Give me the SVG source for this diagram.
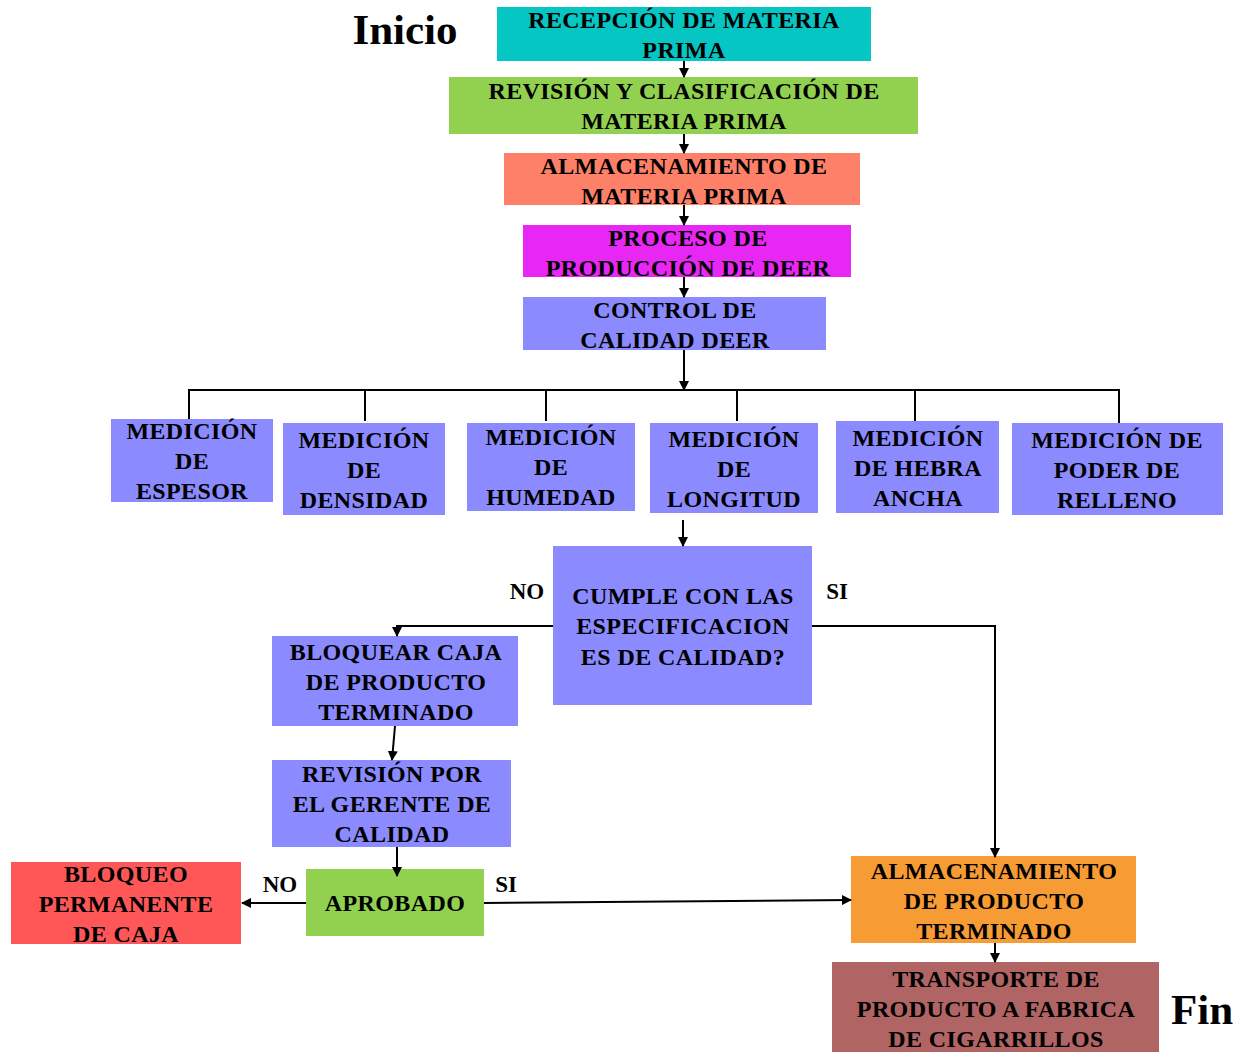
<svg xmlns="http://www.w3.org/2000/svg" width="1240" height="1053" viewBox="0 0 1240 1053">
<style>
text{font-family:"Liberation Serif","Times New Roman",serif;font-weight:bold;fill:#000;text-anchor:middle}
.t{font-size:24px;letter-spacing:0.4px}
.big{font-size:43px}
.lbl{font-size:23px}
.c{stroke:#000;stroke-width:2;fill:none}
</style>
<defs>
<marker id="ah" viewBox="0 0 10 10" refX="9" refY="5" markerWidth="5" markerHeight="5" orient="auto" markerUnits="strokeWidth">
<path d="M0,0 L10,5 L0,10 z" fill="#000"/>
</marker>
</defs>
<rect width="1240" height="1053" fill="#fff"/>
<text class="big" x="405" y="44">Inicio</text>
<text class="big" x="1202" y="1024">Fin</text>

<g id="n1"><rect x="497" y="7" width="374" height="54" fill="#05C6C3"/>
<text class="t" x="684" y="28">RECEPCIÓN  DE MATERIA</text><text class="t" x="684" y="58">PRIMA</text></g>
<g id="n2"><rect x="449" y="77" width="469" height="57" fill="#92D050"/>
<text class="t" x="684" y="99">REVISIÓN  Y CLASIFICACIÓN  DE</text><text class="t" x="684" y="129">MATERIA  PRIMA</text></g>
<g id="n3"><rect x="504" y="153" width="356" height="52" fill="#FF8068"/>
<text class="t" x="684" y="174">ALMACENAMIENTO  DE</text><text class="t" x="684" y="204">MATERIA  PRIMA</text></g>
<g id="n4"><rect x="523" y="225" width="328" height="52" fill="#E927F5"/>
<text class="t" x="688" y="246">PROCESO DE</text><text class="t" x="688" y="276">PRODUCCIÓN DE DEER</text></g>
<g id="n5"><rect x="523" y="297" width="303" height="53" fill="#8B8BFF"/>
<text class="t" x="675" y="318">CONTROL DE</text><text class="t" x="675" y="348">CALIDAD  DEER</text></g>

<g id="m1"><rect x="111" y="419" width="162" height="83" fill="#8B8BFF"/>
<text class="t" x="192" y="439">MEDICIÓN</text><text class="t" x="192" y="469">DE</text><text class="t" x="192" y="499">ESPESOR</text></g>
<g id="m2"><rect x="283" y="423" width="162" height="92" fill="#8B8BFF"/>
<text class="t" x="364" y="448">MEDICIÓN</text><text class="t" x="364" y="478">DE</text><text class="t" x="364" y="508">DENSIDAD</text></g>
<g id="m3"><rect x="467" y="423" width="168" height="88" fill="#8B8BFF"/>
<text class="t" x="551" y="445">MEDICIÓN</text><text class="t" x="551" y="475">DE</text><text class="t" x="551" y="505">HUMEDAD</text></g>
<g id="m4"><rect x="650" y="423" width="168" height="90" fill="#8B8BFF"/>
<text class="t" x="734" y="447">MEDICIÓN</text><text class="t" x="734" y="477">DE</text><text class="t" x="734" y="507">LONGITUD</text></g>
<g id="m5"><rect x="836" y="421" width="163" height="92" fill="#8B8BFF"/>
<text class="t" x="918" y="446">MEDICIÓN</text><text class="t" x="918" y="476">DE HEBRA</text><text class="t" x="918" y="506">ANCHA</text></g>
<g id="m6"><rect x="1012" y="423" width="211" height="92" fill="#8B8BFF"/>
<text class="t" x="1117" y="448">MEDICIÓN DE</text><text class="t" x="1117" y="478">PODER DE</text><text class="t" x="1117" y="508">RELLENO</text></g>

<g id="d1"><rect x="553" y="546" width="259" height="159" fill="#8B8BFF"/>
<text class="t" x="683" y="604">CUMPLE CON LAS</text><text class="t" x="683" y="634">ESPECIFICACION</text><text class="t" x="683" y="665">ES DE CALIDAD?</text></g>
<text class="lbl" x="527" y="599">NO</text>
<text class="lbl" x="837" y="599">SI</text>

<g id="b1"><rect x="272" y="636" width="246" height="90" fill="#8B8BFF"/>
<text class="t" x="396" y="660">BLOQUEAR CAJA</text><text class="t" x="396" y="690">DE PRODUCTO</text><text class="t" x="396" y="720">TERMINADO</text></g>
<g id="b2"><rect x="272" y="760" width="239" height="87" fill="#8B8BFF"/>
<text class="t" x="392" y="782">REVISIÓN  POR</text><text class="t" x="392" y="812">EL GERENTE  DE</text><text class="t" x="392" y="842">CALIDAD</text></g>
<g id="b3"><rect x="306" y="869" width="178" height="67" fill="#92D050"/>
<text class="t" x="395" y="911">APROBADO</text></g>
<text class="lbl" x="280" y="892">NO</text>
<text class="lbl" x="506" y="892">SI</text>
<g id="b4"><rect x="11" y="862" width="230" height="82" fill="#FF5757"/>
<text class="t" x="126" y="882">BLOQUEO</text><text class="t" x="126" y="912">PERMANENTE</text><text class="t" x="126" y="942">DE CAJA</text></g>
<g id="b5"><rect x="851" y="856" width="285" height="87" fill="#F79B35"/>
<text class="t" x="994" y="879">ALMACENAMIENTO</text><text class="t" x="994" y="909">DE PRODUCTO</text><text class="t" x="994" y="939">TERMINADO</text></g>
<g id="b6"><rect x="832" y="962" width="327" height="90" fill="#B06464"/>
<text class="t" x="996" y="987">TRANSPORTE  DE</text><text class="t" x="996" y="1017">PRODUCTO A FABRICA</text><text class="t" x="996" y="1047">DE CIGARRILLOS</text></g>

<g id="connectors">
<line class="c" x1="684" y1="61" x2="684" y2="77" marker-end="url(#ah)"/>
<line class="c" x1="684" y1="134" x2="684" y2="153" marker-end="url(#ah)"/>
<line class="c" x1="684" y1="205" x2="684" y2="225" marker-end="url(#ah)"/>
<line class="c" x1="684" y1="277" x2="684" y2="297" marker-end="url(#ah)"/>
<line class="c" x1="684" y1="350" x2="684" y2="390" marker-end="url(#ah)"/>
<polyline class="c" points="189,419 189,390 1119,390 1119,423"/>
<line class="c" x1="365" y1="390" x2="365" y2="421"/>
<line class="c" x1="546" y1="390" x2="546" y2="421"/>
<line class="c" x1="737" y1="390" x2="737" y2="421"/>
<line class="c" x1="915" y1="390" x2="915" y2="421"/>
<line class="c" x1="683" y1="520" x2="683" y2="546" marker-end="url(#ah)"/>
<polyline class="c" points="553,626 397,626 397,636" marker-end="url(#ah)"/>
<polyline class="c" points="812,626 995,626 995,857" marker-end="url(#ah)"/>
<line class="c" x1="395" y1="726" x2="392" y2="760" marker-end="url(#ah)"/>
<line class="c" x1="397" y1="847" x2="397" y2="876" marker-end="url(#ah)"/>
<line class="c" x1="306" y1="903" x2="242" y2="903" marker-end="url(#ah)"/>
<line class="c" x1="484" y1="903" x2="851" y2="900" marker-end="url(#ah)"/>
<line class="c" x1="995" y1="943" x2="995" y2="962" marker-end="url(#ah)"/>
</g>
</svg>
